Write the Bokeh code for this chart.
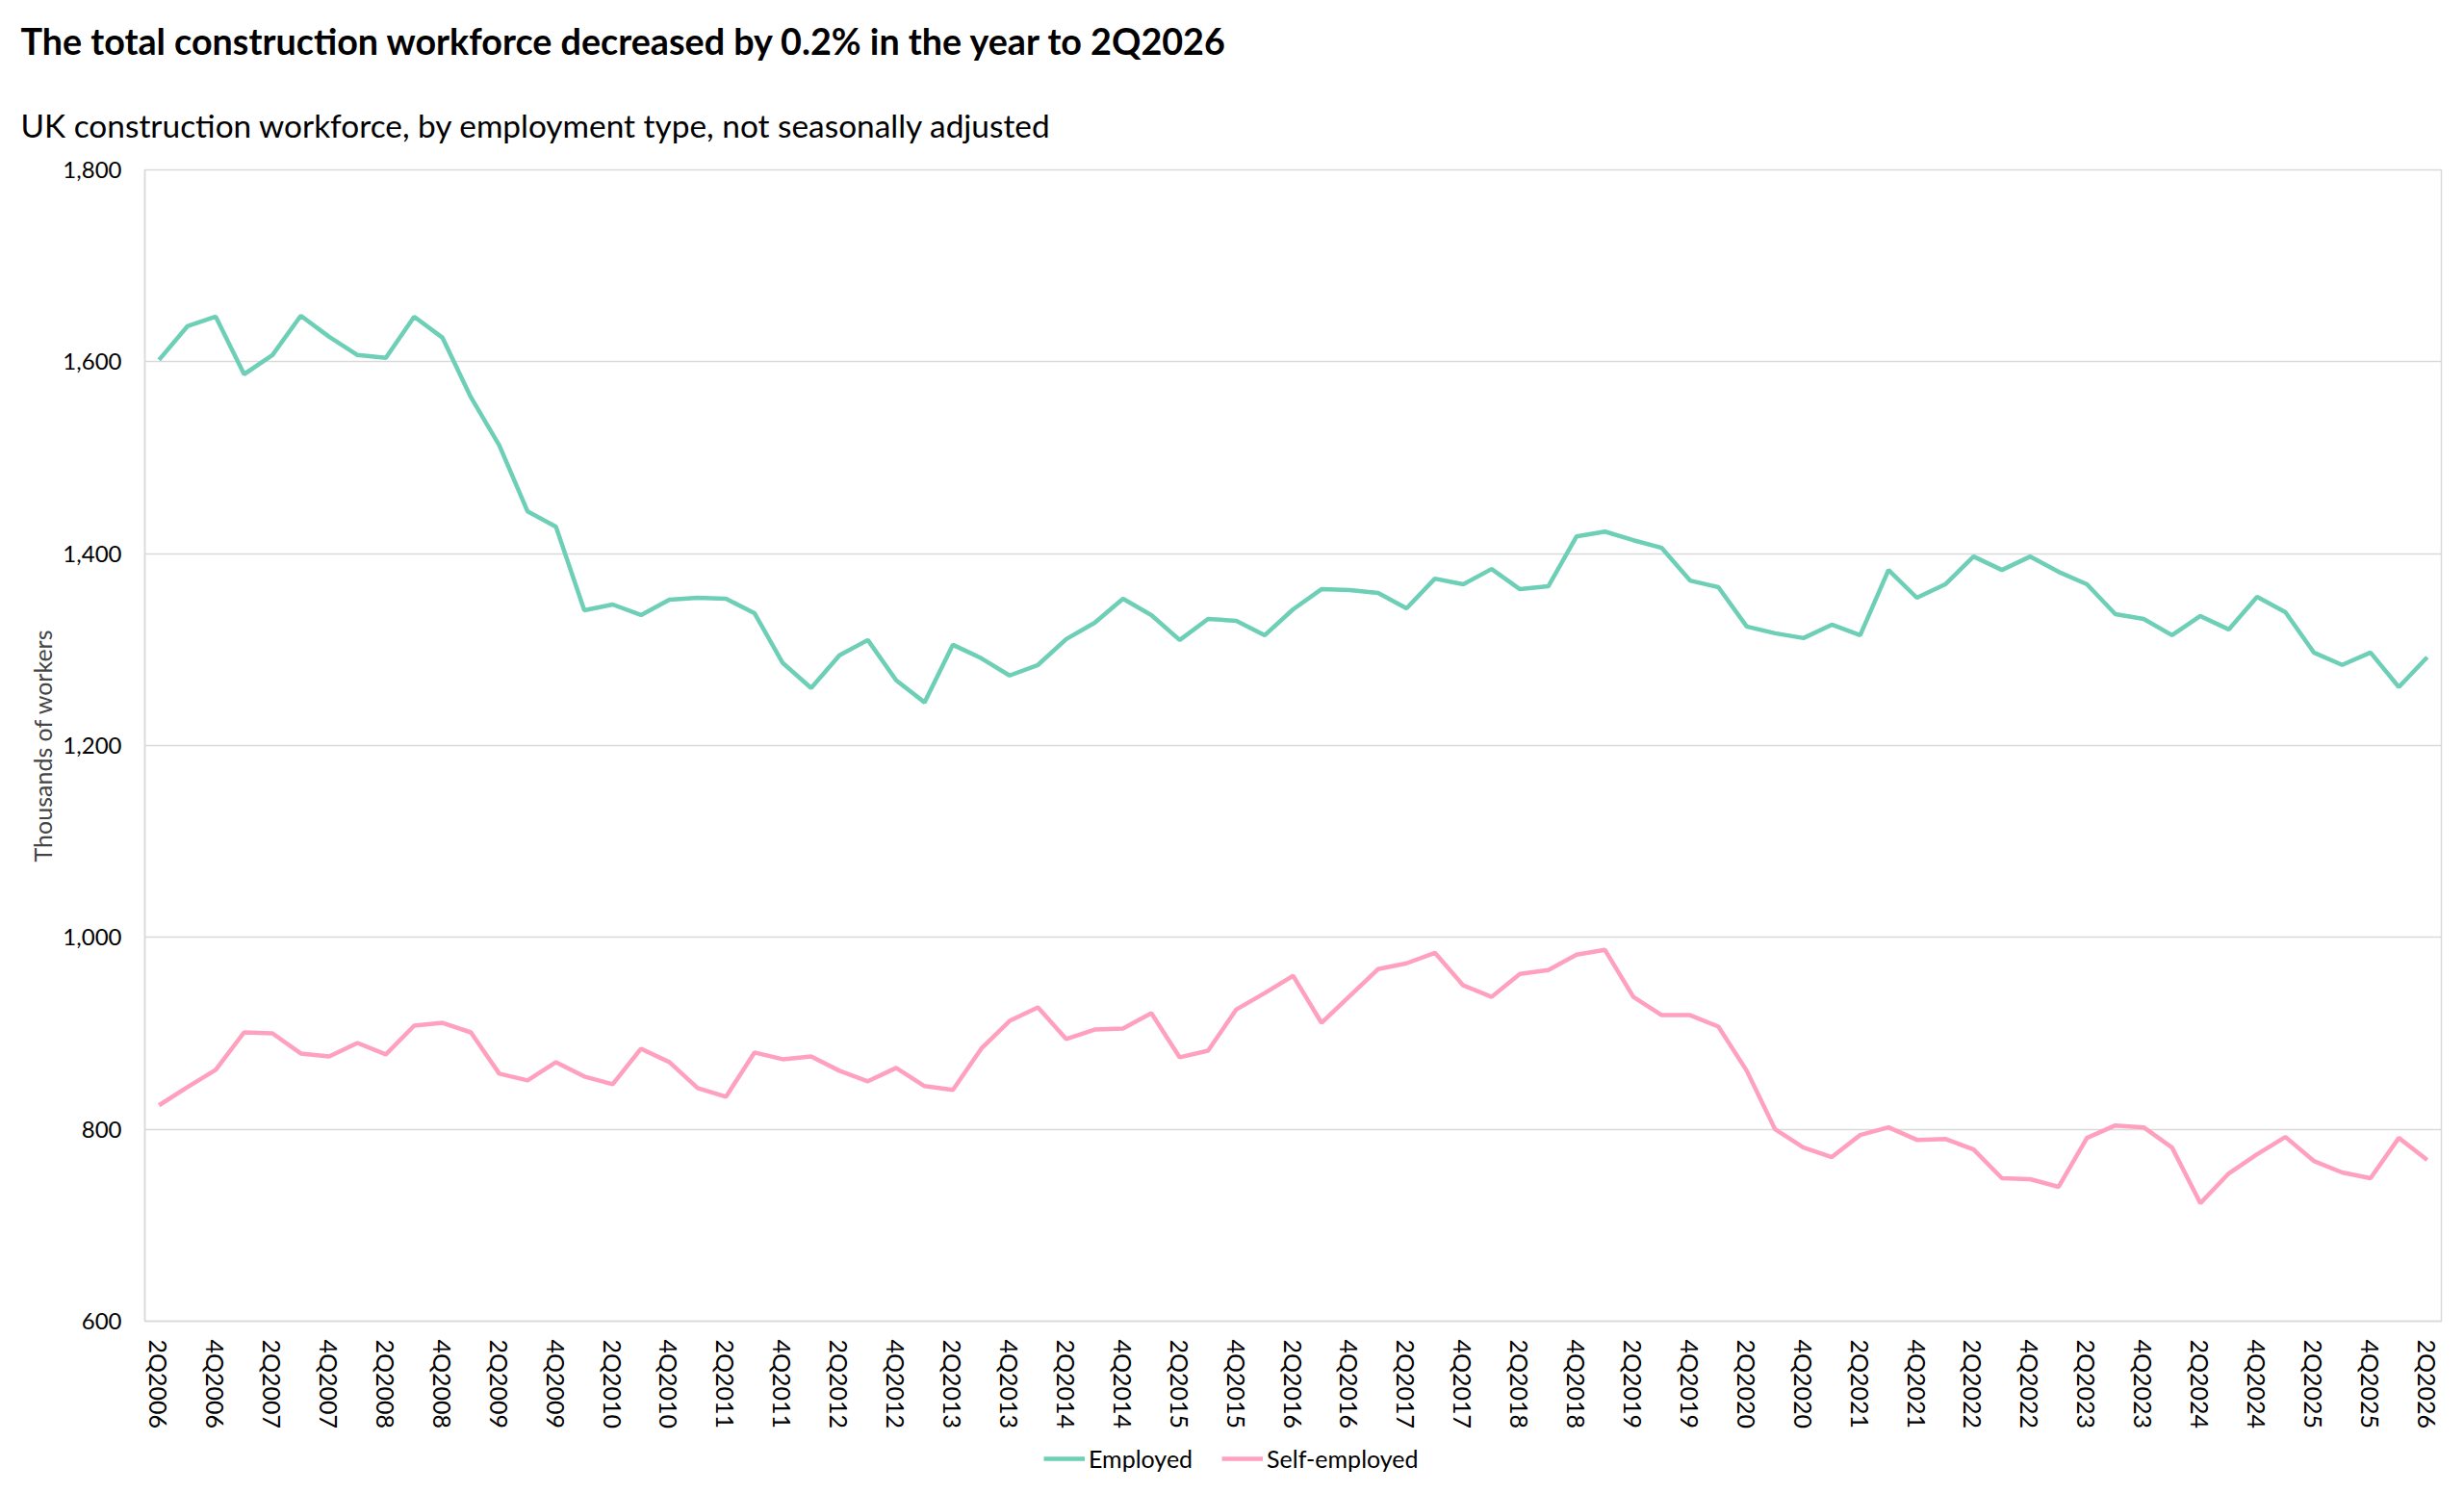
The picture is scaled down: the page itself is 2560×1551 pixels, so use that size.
from bokeh.plotting import figure
from bokeh.layouts import column
from bokeh.models import Range1d, FixedTicker, NumeralTickFormatter, Title, Legend, LegendItem
from bokeh.embed import file_html
from bokeh.resources import INLINE

# quarters 2Q2006 .. 2Q2026
years = list(range(2006, 2027))
quarters = [f"{q}Q{y}" for y in years for q in (1, 2, 3, 4)][1:-2]

# thousands of workers
employed = [1602, 1637, 1647, 1587, 1607, 1648, 1626, 1607, 1604, 1647,
            1625, 1563, 1513, 1444, 1428, 1341, 1347, 1336, 1352, 1354,
            1353, 1338, 1286, 1260, 1294, 1310, 1268, 1245, 1305, 1291,
            1273, 1284, 1311, 1328, 1353, 1336, 1310, 1332, 1330, 1315,
            1342, 1363, 1362, 1359, 1343, 1374, 1368, 1384, 1363, 1366,
            1418, 1423, 1414, 1406, 1372, 1365, 1324, 1317, 1312, 1326,
            1315, 1383, 1354, 1368, 1397, 1383, 1397, 1381, 1368, 1337,
            1332, 1315, 1335, 1321, 1355, 1339, 1297, 1284, 1297, 1261,
            1292]
self_employed = [825, 844, 862, 901, 900, 879, 876, 890, 878, 908,
                 911, 901, 858, 851, 870, 855, 847, 884, 870, 843,
                 834, 880, 873, 876, 861, 850, 864, 845, 841, 884,
                 913, 927, 894, 904, 905, 921, 875, 882, 925, 942,
                 960, 911, 939, 967, 973, 984, 950, 938, 962, 966,
                 982, 987, 938, 919, 919, 907, 861, 800, 781, 771,
                 794, 802, 789, 790, 779, 749, 748, 740, 791, 804,
                 802, 781, 723, 754, 774, 792, 767, 755, 749, 791,
                 768]
y_ticks = [600, 800, 1000, 1200, 1400, 1600, 1800]

x = list(range(len(quarters)))
x_ticks = x[::2]

grey = "#d9d9d9"
teal = "#6dcfb6"
pink = "#ffa1be"
font = "Lato"

p = figure(width=2544, height=1489, x_range=Range1d(-0.5, len(quarters) - 0.5),
           y_range=Range1d(600, 1800), output_backend="svg", toolbar_location=None,
           min_border_left=150, min_border_right=8, min_border_top=176,
           min_border_bottom=117)

sub = Title(text="UK construction workforce, by employment type, not seasonally adjusted",
            text_font=font, text_font_size="33.4px", text_font_style="normal",
            text_color="black", align="left", offset=-129, standoff=54)
p.add_layout(sub, "above")
main = Title(text="The total construction workforce decreased by 0.2% in the year to 2Q2026",
             text_font=font, text_font_size="37.7px", text_font_style="bold",
             text_color="black", align="left", offset=-129, standoff=32)
p.add_layout(main, "above")

p.line(x, employed, line_color=teal, line_width=4.5)
p.line(x, self_employed, line_color=pink, line_width=4.5)

p.xgrid.grid_line_color = None
p.ygrid.grid_line_color = grey
p.ygrid.grid_line_width = 1.5
p.outline_line_color = grey
p.outline_line_width = 1.5

p.yaxis.ticker = FixedTicker(ticks=y_ticks)
p.yaxis.formatter = NumeralTickFormatter(format="0,0")
p.yaxis.axis_label = "Thousands of workers"
p.yaxis.axis_label_text_font = font
p.yaxis.axis_label_text_font_size = "25px"
p.yaxis.axis_label_text_font_style = "normal"
p.yaxis.axis_label_standoff = 3
p.yaxis.major_label_standoff = 24
p.yaxis.major_label_text_font_size = "24px"

p.xaxis.ticker = FixedTicker(ticks=x_ticks)
p.xaxis.major_label_overrides = {i: quarters[i] for i in x_ticks}
p.xaxis.major_label_orientation = "vertical"
p.xaxis.major_label_standoff = 19
p.xaxis.major_label_text_font_size = "25px"

for ax in (p.xaxis, p.yaxis):
    ax.axis_line_color = grey
    ax.axis_line_width = 1.5
    ax.major_tick_line_color = None
    ax.minor_tick_line_color = None
    ax.major_tick_out = 0
    ax.major_tick_in = 0
    ax.major_label_text_font = font
    ax.major_label_text_color = "black"

# legend strip under the chart (its lines sit outside the visible range)
lf = figure(width=2544, height=50, x_range=Range1d(0, 1), y_range=Range1d(0, 1),
            x_axis_type=None, y_axis_type=None, output_backend="svg",
            toolbar_location=None, min_border_left=150, min_border_right=8,
            min_border_top=0, min_border_bottom=0)
lf.grid.visible = False
lf.outline_line_color = None
l1 = lf.line([-2, -1], [-2, -1], line_color=teal, line_width=4.5)
l2 = lf.line([-2, -1], [-2, -1], line_color=pink, line_width=4.5)

legend = Legend(items=[LegendItem(label="Employed", renderers=[l1]),
                       LegendItem(label="Self-employed", renderers=[l2])],
                orientation="horizontal", location=(934, 9),
                label_text_font=font, label_text_font_size="25px",
                label_text_color="black", glyph_width=43, glyph_height=24,
                spacing=30, label_standoff=4, padding=4, margin=0,
                border_line_color=None, background_fill_alpha=0)
lf.add_layout(legend, "center")

page = column(p, lf, spacing=0)

open("out.html", "w").write(file_html(page, INLINE))
